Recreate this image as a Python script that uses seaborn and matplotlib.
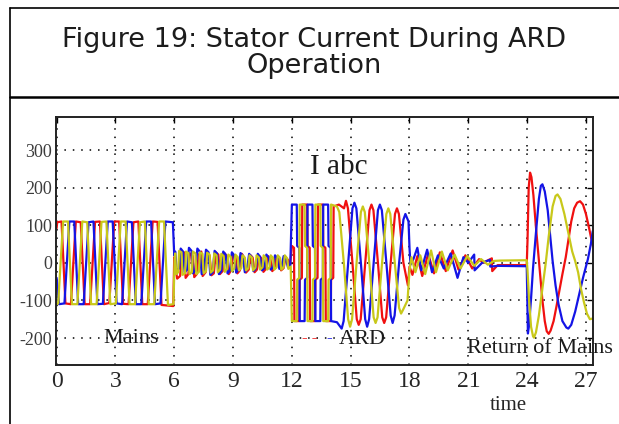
import matplotlib
matplotlib.use("Agg")
import matplotlib.pyplot as plt
from matplotlib.lines import Line2D
import pandas as pd
import seaborn as sns

# Stator phase currents (time, current) turning points for each phase
phase_a = [  # red
    (0.00, 92), (0.03, 108), (0.25, 110), (0.45, -108), (0.73, -110), (0.98, 110), (1.23, 108),
    (1.43, -110), (1.71, -110), (1.96, 109), (2.21, 110), (2.41, -110), (2.69, -107), (2.94, 110),
    (3.19, 110), (3.39, -109), (3.67, -110), (3.92, 108), (4.17, 110), (4.37, -110), (4.65, -110),
    (4.90, 110), (5.15, 109), (5.35, -112), (5.95, -115), (6.00, 15),
    (6.05, -10), (6.15, -42), (6.30, -35), (6.38, 20), (6.50, 28), (6.58, -40), (6.72, -30),
    (6.80, 25), (6.95, 18), (7.02, -38), (7.15, -30), (7.25, 22), (7.38, 30), (7.45, -35),
    (7.60, -25), (7.68, 25), (7.80, 20), (7.90, -33), (8.02, -28), (8.12, 28), (8.25, 22),
    (8.33, -30), (8.47, -22), (8.56, 26), (8.68, 18), (8.78, -30), (8.90, -20), (9.00, 22),
    (9.12, 18), (9.22, -28), (9.35, -20), (9.45, 24), (9.56, 15), (9.66, -26), (9.80, -18),
    (9.90, 20), (10.00, 14), (10.10, -25), (10.22, -18), (10.33, 18), (10.45, 12), (10.55, -24),
    (10.68, -16), (10.78, 18), (10.90, 12), (11.00, -22), (11.12, -15), (11.22, 16), (11.35, 10),
    (11.45, -20), (11.58, -14), (11.68, 14), (11.80, 8), (11.90, -12), (12.00, 45),
    (12.11, 40), (12.13, -155), (12.38, -155), (12.40, -45), (12.51, -40), (12.53, 155),
    (12.78, 155), (12.80, 45), (12.91, 40), (12.93, -155), (13.18, -155), (13.20, -45),
    (13.31, -40), (13.33, 155), (13.58, 155), (13.60, 45), (13.71, 40), (13.73, -155),
    (13.98, -155), (14.00, -45), (14.11, -40), (14.13, 150), (14.40, 155),
    (14.66, 145), (14.76, 165), (14.86, 145), (15.09, 0), (15.31, -150), (15.41, -165),
    (15.51, -150), (15.74, 0), (15.96, 140), (16.06, 155), (16.16, 140), (16.39, 0),
    (16.61, -145), (16.71, -160), (16.81, -145), (17.04, 0), (17.26, 130), (17.36, 145),
    (17.46, 130), (17.69, 0), (17.92, -60), (18.00, -10),
    (18.15, -32), (18.40, 18), (18.65, -35), (18.95, 24), (19.25, -28), (19.55, 28),
    (19.85, -22), (20.20, 33), (20.50, -18), (20.85, 20), (21.20, -15), (21.55, 10),
    (21.75, 0), (22.20, 12), (22.22, -22), (22.50, -6), (23.98, -6),
    (24.02, 60), (24.08, 200), (24.15, 240), (24.22, 228), (24.32, 180), (24.45, 95),
    (24.55, 35), (24.65, -25), (24.78, -100), (24.90, -155), (25.00, -182), (25.10, -189),
    (25.20, -180), (25.35, -155), (25.50, -115), (25.65, -72), (25.80, -30), (25.97, 15),
    (26.10, 60), (26.25, 110), (26.40, 145), (26.55, 160), (26.70, 164), (26.85, 155),
    (27.00, 130), (27.15, 95), (27.35, 45),
]

phase_b = [  # blue
    (0.00, -40), (0.12, -110), (0.40, -108), (0.65, 110), (0.90, 110), (1.10, -110), (1.38, -110),
    (1.63, 108), (1.88, 110), (2.08, -110), (2.36, -109), (2.61, 110), (2.86, 110), (3.06, -108),
    (3.34, -110), (3.59, 110), (3.84, 108), (4.04, -110), (4.32, -110), (4.57, 110), (4.82, 110),
    (5.02, -110), (5.30, -108), (5.55, 110), (5.93, 108), (6.00, 20),
    (6.05, 30), (6.12, -20), (6.25, -15), (6.33, 38), (6.45, 30), (6.53, -25), (6.66, -18),
    (6.75, 40), (6.88, 32), (6.96, -28), (7.08, -20), (7.18, 38), (7.30, 30), (7.40, -30),
    (7.52, -22), (7.62, 35), (7.75, 28), (7.84, -32), (7.96, -25), (8.06, 32), (8.18, 25),
    (8.28, -30), (8.40, -22), (8.50, 30), (8.62, 22), (8.72, -28), (8.84, -20), (8.94, 28),
    (9.06, 20), (9.16, -26), (9.28, -18), (9.38, 26), (9.50, 18), (9.60, -25), (9.72, -16),
    (9.82, 24), (9.94, 16), (10.04, -22), (10.16, -15), (10.26, 24), (10.38, 16), (10.48, -20),
    (10.60, -14), (10.70, 22), (10.82, 14), (10.92, -18), (11.04, -12), (11.14, 20), (11.26, 12),
    (11.36, -16), (11.48, -10), (11.58, 18), (11.70, 10), (11.80, -12), (11.92, -6), (12.00, 155),
    (12.25, 155), (12.27, 45), (12.38, 40), (12.40, -155), (12.65, -155), (12.67, -45),
    (12.78, -40), (12.80, 155), (13.05, 155), (13.07, 45), (13.18, 40), (13.20, -155),
    (13.45, -155), (13.47, -45), (13.58, -40), (13.60, 155), (13.85, 155), (13.87, 45),
    (13.98, 40), (14.00, -155), (14.30, -158),
    (14.54, -175), (14.64, -155), (14.87, 0), (15.09, 145), (15.19, 160), (15.29, 145),
    (15.52, 0), (15.74, -150), (15.84, -170), (15.94, -150), (16.17, 0), (16.39, 140),
    (16.49, 155), (16.59, 140), (16.82, 0), (17.04, -140), (17.14, -160), (17.24, -140),
    (17.47, 0), (17.69, 115), (17.79, 130), (17.95, 110), (18.00, 40),
    (18.05, -5), (18.20, 10), (18.40, 40), (18.60, -20), (18.90, 35), (19.15, -25),
    (19.45, 20), (19.75, -15), (20.10, 25), (20.45, -40), (20.75, 15), (21.00, 0),
    (21.30, 22), (21.32, -20), (21.70, 0), (22.10, 8), (22.12, -10), (22.50, -8), (23.98, -9),
    (24.01, -100), (24.04, -188), (24.10, -165), (24.20, -95), (24.30, -15), (24.45, 80),
    (24.60, 170), (24.70, 205), (24.78, 209), (24.90, 190), (25.05, 140), (25.20, 60),
    (25.30, 5), (25.45, -60), (25.60, -110), (25.80, -155), (26.00, -172), (26.10, -175),
    (26.25, -165), (26.45, -130), (26.65, -85), (26.85, -40), (27.10, 10), (27.25, 50),
    (27.35, 85),
]

phase_c = [  # yellow
    (0.00, -110), (0.08, -108), (0.33, 110), (0.58, 110), (0.78, -110), (1.06, -110), (1.31, 110),
    (1.56, 108), (1.76, -110), (2.04, -110), (2.29, 109), (2.54, 110), (2.74, -110), (3.02, -108),
    (3.27, 110), (3.52, 110), (3.72, -110), (4.00, -110), (4.25, 108), (4.50, 110), (4.70, -110),
    (4.98, -110), (5.23, 110), (5.48, 110), (5.68, -112), (5.96, -110), (6.02, 10),
    (6.05, 25), (6.10, -30), (6.20, -25), (6.25, 32), (6.37, 28), (6.42, -32), (6.55, -28),
    (6.60, 30), (6.72, 26), (6.78, -30), (6.90, -25), (6.95, 30), (7.08, 25), (7.13, -30),
    (7.26, -24), (7.31, 28), (7.44, 24), (7.50, -28), (7.62, -22), (7.68, 27), (7.80, 22),
    (7.86, -26), (7.98, -20), (8.04, 25), (8.16, 20), (8.22, -25), (8.34, -18), (8.40, 24),
    (8.52, 18), (8.58, -24), (8.70, -16), (8.76, 22), (8.88, 16), (8.94, -22), (9.06, -15),
    (9.12, 22), (9.24, 15), (9.30, -20), (9.42, -14), (9.48, 20), (9.60, 14), (9.66, -20),
    (9.78, -14), (9.84, 20), (9.96, 14), (10.02, -20), (10.14, -13), (10.20, 20), (10.32, 14),
    (10.38, -18), (10.50, -12), (10.56, 20), (10.68, 13), (10.74, -18), (10.86, -12),
    (10.92, 20), (11.04, 13), (11.10, -18), (11.22, -12), (11.28, 20), (11.40, 13),
    (11.46, -18), (11.58, -12), (11.64, 20), (11.76, 12), (11.82, -16), (11.94, -10),
    (12.00, -155),
    (12.25, -155), (12.27, -45), (12.38, -40), (12.40, 155), (12.65, 155), (12.67, 45),
    (12.78, 40), (12.80, -155), (13.05, -155), (13.07, -45), (13.18, -40), (13.20, 155),
    (13.45, 155), (13.47, 45), (13.58, 40), (13.60, -155), (13.85, -155), (13.87, -45),
    (13.98, -40), (14.00, 155), (14.30, 150),
    (14.42, 135), (14.65, 0), (14.87, -150), (14.97, -170), (15.07, -150), (15.30, 0),
    (15.52, 135), (15.62, 150), (15.72, 135), (15.95, 0), (16.17, -145), (16.27, -160),
    (16.37, -145), (16.60, 0), (16.82, 130), (16.92, 145), (17.02, 130), (17.25, 0),
    (17.47, -120), (17.57, -135), (17.67, -125), (17.90, -100), (18.00, -20),
    (18.10, 15), (18.30, -25), (18.55, 20), (18.80, -30), (19.10, 33), (19.35, -25),
    (19.65, 30), (19.95, -20), (20.30, 22), (20.60, -15), (20.95, 18), (21.30, -8),
    (21.65, 10), (22.00, -5), (22.30, 5), (22.60, 6), (23.98, 7),
    (24.02, -20), (24.10, -100), (24.20, -170), (24.30, -195), (24.35, -199), (24.45, -185),
    (24.60, -140), (24.80, -60), (24.95, 0), (25.10, 70), (25.30, 150), (25.45, 178),
    (25.55, 182), (25.70, 170), (25.90, 130), (26.10, 80), (26.30, 30), (26.45, 5),
    (26.60, -25), (26.75, -70), (26.90, -105), (27.05, -135), (27.20, -150), (27.35, -148),
]

phase_names = ["a", "b", "c"]
phase_colors = ["#f01010", "#1414e6", "#c8c81a"]
x_ticks = [0, 3, 6, 9, 12, 15, 18, 21, 24, 27]
y_ticks = [-200, -100, 0, 100, 200, 300]

frames = []
for name, pts in zip(phase_names, [phase_a, phase_b, phase_c]):
    frames.append(pd.DataFrame(pts, columns=["time", "current"]).assign(phase=name))
df = pd.concat(frames, ignore_index=True)

sns.set_style("white")
plt.rcParams["font.family"] = ["Liberation Serif", "DejaVu Serif"]

fig = plt.figure(figsize=(6.19, 4.24), dpi=100)
ax = fig.add_axes([0.0905, 0.139, 0.8675, 0.585])

sns.lineplot(data=df, x="time", y="current", hue="phase", hue_order=phase_names,
             palette=dict(zip(phase_names, phase_colors)), estimator=None, sort=False,
             lw=1.6, legend=False, ax=ax)

ax.set_xlim(-0.03, 27.36)
ax.set_ylim(-272, 388)
ax.set_xticks(x_ticks)
ax.set_yticks(y_ticks)
ax.set_xticklabels([str(v) for v in x_ticks], fontsize=17)
ax.set_yticklabels([str(v) for v in y_ticks], fontsize=13, color="#3c3c3c")
ax.tick_params(axis="both", direction="in", length=4, width=1, top=True, right=True, color="black")
ax.tick_params(axis="x", pad=4)
ax.tick_params(axis="y", pad=3)
ax.grid(True, color="black", linestyle=(0, (1, 4.5)), linewidth=1.1)
ax.set_axisbelow(True)
for sp in ax.spines.values():
    sp.set_color("#222222")
    sp.set_linewidth(1.4)

ax.set_ylabel("")
ax.set_xlabel("time", fontsize=15)
ax.xaxis.set_label_coords(0.842, -0.125)

ax.text(3.8, -200, "Mains", fontsize=16, ha="center", va="center", color="#1a1a1a")
ax.text(14.4, 255, "I abc", fontsize=21, ha="center", va="center", color="#1a1a1a")
ax.text(15.6, -205, "ARD", fontsize=16, ha="center", va="center", color="#1a1a1a")
ax.text(12.9, -200, "- -", fontsize=12, ha="center", va="center", color="#f01010")
ax.text(13.9, -200, "-", fontsize=12, ha="center", va="center", color="#1414e6")
ax.text(24.65, -228, "Return of Mains", fontsize=16, ha="center", va="center",
        color="#1a1a1a", clip_on=False)

# figure frame and title panel
fig.add_artist(Line2D([10 / 619, 1.0], [1 - 8 / 424] * 2, color="black", lw=1.2,
                      transform=fig.transFigure))
fig.add_artist(Line2D([10 / 619] * 2, [0.0, 1 - 8 / 424], color="black", lw=1.2,
                      transform=fig.transFigure))
fig.add_artist(Line2D([10 / 619, 1.0], [1 - 97 / 424] * 2, color="black", lw=1.8,
                      transform=fig.transFigure))
title_font = ["DejaVu Sans"]
fig.text(0.507, 1 - 40 / 424, "Figure 19: Stator Current During ARD", fontsize=19.5,
         ha="center", va="center", family=title_font, color="#1c1c1c")
fig.text(0.507, 1 - 66 / 424, "Operation", fontsize=19.5, ha="center", va="center",
         family=title_font, color="#1c1c1c")

fig.savefig("out.png", dpi=100)
